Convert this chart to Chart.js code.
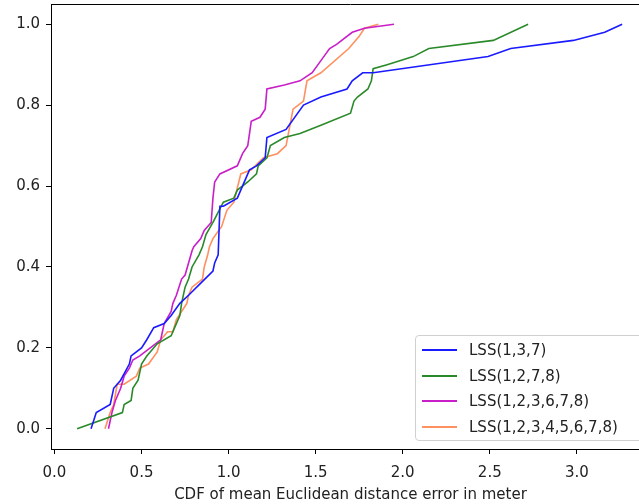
<!DOCTYPE html>
<html>
<head>
<meta charset="utf-8">
<script src="https://cdn.jsdelivr.net/npm/chart.js@4/dist/chart.umd.min.js"></script>
<style>
  html, body { margin: 0; padding: 0; background: #fff; overflow: hidden; }
  #wrap { position: relative; width: 639px; height: 504px; overflow: hidden; }
  #cdfChart { position: absolute; left: 0; top: 0; }
  #legend {
    position: absolute; left: 415px; top: 335px; width: 232px; height: 104px;
    border: 1px solid #d0d0d0; border-radius: 4px; background: rgba(255,255,255,0.85);
    font-family: 'DejaVu Sans', sans-serif; font-size: 15px; color: #222;
  }
  .row { position: absolute; left: 0; height: 20px; line-height: 20px; white-space: nowrap; }
  .row .sw { position: absolute; left: 6px; top: 9px; width: 35px; height: 2px; }
  .row .tx { position: absolute; left: 53px; top: 0; }
</style>
</head>
<body>
<div id="wrap">
  <canvas id="cdfChart" width="680" height="504"></canvas>
  <div id="legend"></div>
</div>
<script>
const seriesNames = ['LSS(1,3,7)', 'LSS(1,2,7,8)', 'LSS(1,2,3,6,7,8)', 'LSS(1,2,3,4,5,6,7,8)']
const seriesColors = ['#1a1aff', '#2a8a2a', '#c81fc8', '#ff9060']

const lss137X = [0.21,0.24,0.32,0.34,0.38,0.43,0.44,0.50,0.53,0.57,0.63,0.67,0.72,0.77,0.84,0.91,0.92,0.94,0.95,0.97,1.05,1.12,1.16,1.21,1.22,1.33,1.43,1.53,1.68,1.71,1.77,1.83,2.49,2.62,2.98,3.16,3.26]
const lss137Y = [0,0.04,0.06,0.10,0.12,0.16,0.18,0.20,0.22,0.25,0.26,0.28,0.31,0.33,0.36,0.39,0.41,0.43,0.55,0.55,0.57,0.64,0.65,0.67,0.72,0.74,0.80,0.82,0.84,0.86,0.88,0.88,0.92,0.94,0.96,0.98,1.00]

const lss1278X = [0.13,0.39,0.40,0.44,0.45,0.48,0.50,0.53,0.59,0.67,0.69,0.72,0.73,0.75,0.77,0.79,0.83,0.85,0.87,0.91,0.97,1.03,1.05,1.11,1.16,1.17,1.22,1.24,1.32,1.41,1.53,1.70,1.72,1.74,1.80,1.82,1.83,1.91,2.06,2.15,2.52,2.72]
const lss1278Y = [0,0.04,0.06,0.07,0.10,0.12,0.16,0.18,0.21,0.23,0.25,0.28,0.31,0.35,0.37,0.40,0.43,0.45,0.48,0.51,0.56,0.57,0.59,0.61,0.63,0.65,0.67,0.70,0.72,0.73,0.75,0.78,0.81,0.82,0.84,0.86,0.89,0.90,0.92,0.94,0.96,1.00]

const lss123678X = [0.31,0.33,0.35,0.38,0.40,0.43,0.45,0.49,0.55,0.61,0.63,0.67,0.68,0.70,0.73,0.75,0.77,0.79,0.80,0.84,0.86,0.90,0.91,0.92,0.95,1.05,1.08,1.11,1.13,1.18,1.21,1.22,1.32,1.41,1.48,1.53,1.58,1.62,1.71,1.78,1.95]
const lss123678Y = [0,0.04,0.07,0.10,0.13,0.15,0.17,0.18,0.20,0.22,0.26,0.29,0.31,0.33,0.37,0.38,0.41,0.44,0.45,0.47,0.49,0.51,0.57,0.61,0.63,0.65,0.68,0.70,0.76,0.77,0.79,0.84,0.85,0.86,0.88,0.91,0.94,0.95,0.98,0.99,1.00]

const lssAllX = [0.29,0.32,0.34,0.36,0.40,0.47,0.49,0.54,0.59,0.61,0.65,0.68,0.70,0.73,0.76,0.77,0.79,0.82,0.85,0.86,0.88,0.89,0.91,0.96,0.99,1.03,1.07,1.13,1.20,1.28,1.33,1.37,1.43,1.45,1.53,1.69,1.75,1.78,1.86]
const lssAllY = [0,0.04,0.06,0.11,0.11,0.13,0.15,0.16,0.19,0.22,0.24,0.24,0.27,0.29,0.31,0.33,0.35,0.36,0.37,0.40,0.43,0.45,0.47,0.50,0.54,0.56,0.63,0.64,0.67,0.68,0.70,0.79,0.81,0.86,0.88,0.94,0.97,0.99,1.00]

const xTicks = [0.0, 0.5, 1.0, 1.5, 2.0, 2.5, 3.0]
const yTicks = [0.0, 0.2, 0.4, 0.6, 0.8, 1.0]
const xTitle = 'CDF of mean Euclidean distance error in meter'

const allX = [lss137X, lss1278X, lss123678X, lssAllX]
const allY = [lss137Y, lss1278Y, lss123678Y, lssAllY]

function pairs(xs, ys) {
  const n = Math.min(xs.length, ys.length)
  const out = []
  for (let i = 0; i < n; i++) out.push({ x: xs[i], y: ys[i] })
  return out
}

const font = { family: "'DejaVu Sans', sans-serif", size: 15 }

// top + right spine like matplotlib's box
const frame = {
  id: 'frame',
  afterDraw(chart) {
    const { ctx, chartArea } = chart
    ctx.save()
    ctx.strokeStyle = '#000'
    ctx.lineWidth = 1
    ctx.beginPath()
    ctx.moveTo(chartArea.left, chartArea.top + 0.5)
    ctx.lineTo(chartArea.right, chartArea.top + 0.5)
    ctx.lineTo(chartArea.right, chartArea.bottom)
    ctx.stroke()
    ctx.restore()
  }
}

const cdfChart = new Chart(document.getElementById('cdfChart'), {
  type: 'scatter',
  data: {
    datasets: seriesNames.map((name, i) => ({
      label: name,
      data: pairs(allX[i], allY[i]),
      showLine: true,
      borderColor: seriesColors[i],
      backgroundColor: seriesColors[i],
      borderWidth: 1.6,
      pointRadius: 0,
      tension: 0
    }))
  },
  options: {
    responsive: false,
    animation: false,
    layout: { padding: { top: 4, right: 30, left: 0, bottom: 0 } },
    plugins: { legend: { display: false }, tooltip: { enabled: false } },
    scales: {
      x: {
        type: 'linear',
        min: -0.02,
        max: 3.42,
        afterBuildTicks: s => { s.ticks = xTicks.map(v => ({ value: v })) },
        afterFit: s => { s.height = 55; s.paddingLeft = 0; s.paddingRight = 0 },
        ticks: { font, color: '#222', padding: 10, maxRotation: 0, callback: v => v.toFixed(1) },
        grid: { drawOnChartArea: false, drawTicks: true, tickLength: 5, color: '#000' },
        border: { display: true, color: '#000', width: 1 },
        title: { display: true, text: xTitle, font, color: '#222', padding: { top: 4, bottom: 0 } }
      },
      y: {
        type: 'linear',
        min: -0.05,
        max: 1.05,
        afterBuildTicks: s => { s.ticks = yTicks.map(v => ({ value: v })) },
        afterFit: s => { s.width = 51; s.paddingTop = 0; s.paddingBottom = 0 },
        ticks: { font, color: '#222', padding: 6, callback: v => v.toFixed(1) },
        grid: { drawOnChartArea: false, drawTicks: true, tickLength: 5, color: '#000' },
        border: { display: true, color: '#000', width: 1 }
      }
    }
  },
  plugins: [frame]
})

// legend box in the lower right corner
const legendEl = document.getElementById('legend')
seriesNames.forEach((name, i) => {
  const row = document.createElement('div')
  row.className = 'row'
  row.style.top = (4 + i * 25.5) + 'px'
  row.innerHTML = '<span class="sw" style="background:' + seriesColors[i] + '"></span><span class="tx"></span>'
  row.querySelector('.tx').textContent = name
  legendEl.appendChild(row)
})
</script>
</body>
</html>
